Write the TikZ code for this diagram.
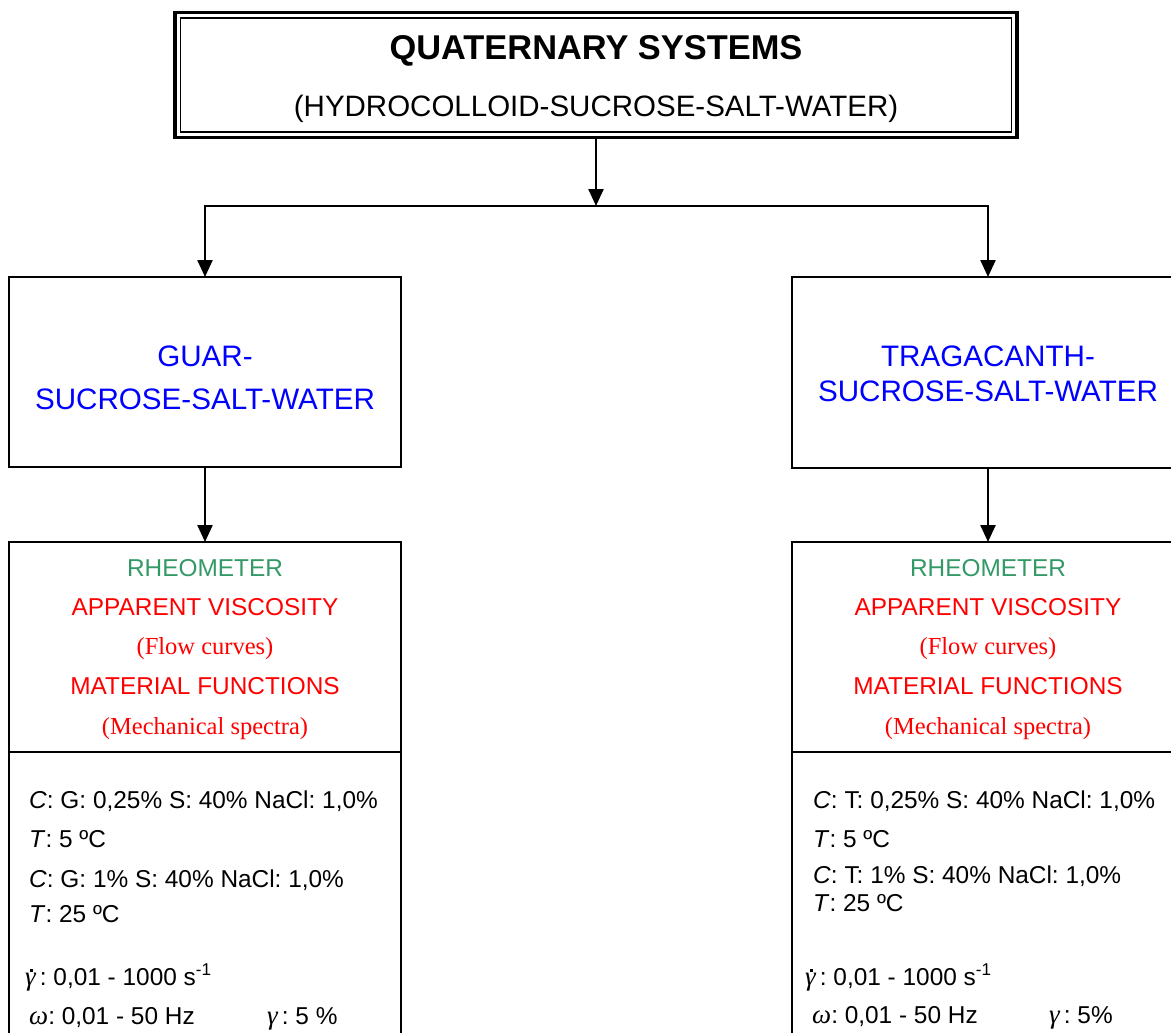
\documentclass[tikz,border=0pt]{standalone}
\usepackage{fontspec}
\setmainfont{Liberation Sans}
\newfontfamily\seriffont{Liberation Serif}
\usetikzlibrary{arrows.meta}
\definecolor{rheogreen}{RGB}{51,153,102}
\definecolor{sysblue}{RGB}{0,0,255}
\definecolor{specred}{RGB}{255,0,0}
\frenchspacing
% Greek symbols set in a serif italic
\newcommand\grk[1]{{\seriffont\itshape\fontsize{27}{30}\selectfont #1}}
% shear rate: gamma with a small square dot above
\newcommand\gammadot{\grk{γ}\llap{\raisebox{13pt}{\rule{2.6pt}{2.6pt}}\kern3.2pt}}

\begin{document}
\begin{tikzpicture}[x=1pt,y=-1pt,
  box/.style={draw, line width=2.4pt, inner sep=0pt, outer sep=0pt},
  link/.style={line width=2.4pt, -{Triangle[length=17pt,width=15pt]}},
  heading/.style={anchor=base, inner sep=0pt, font=\fontsize{34.4}{40}\selectfont\bfseries},
  subheading/.style={anchor=base, inner sep=0pt, font=\fontsize{29.5}{34}\selectfont},
  sysname/.style={anchor=base, inner sep=0pt, text=sysblue, font=\fontsize{29.6}{34}\selectfont},
  instr/.style={anchor=base, inner sep=0pt, text=rheogreen, font=\fontsize{24.4}{28}\selectfont},
  measure/.style={anchor=base, inner sep=0pt, text=specred, font=\fontsize{24.4}{28}\selectfont},
  remark/.style={anchor=base, inner sep=0pt, text=specred, font=\seriffont\fontsize{24.5}{28}\selectfont},
  cond/.style={anchor=base west, inner sep=0pt, font=\fontsize{24.4}{28}\selectfont},
]
\useasboundingbox (0,0) rectangle (1171,1033);
\clip (0,0) rectangle (1171,1033);

% title box with a heavy outer and a light inner frame
\node[box, line width=3.2pt, minimum width=842pt, minimum height=125pt] (top) at (596,75) {};
\node[box, line width=1.8pt, minimum width=831pt, minimum height=114pt] (topin) at (596,75) {};
\node[heading] (title) at (596,60) {QUATERNARY SYSTEMS};
\node[subheading] (subtitle) at (596,117) {(HYDROCOLLOID-SUCROSE-SALT-WATER)};

% system boxes
\node[box, minimum width=392pt, minimum height=190pt] (guar) at (205,372) {};
\node[box, minimum width=392pt, minimum height=191pt] (trag) at (988,372.5) {};
\node[sysname] (guar1) at (205,366) {GUAR-};
\node[sysname] (guar2) at (205,409) {SUCROSE-SALT-WATER};
\node[sysname] (trag1) at (988,366) {TRAGACANTH-};
\node[sysname] (trag2) at (988,401) {SUCROSE-SALT-WATER};

% measurement boxes
\node[box, minimum width=392pt, minimum height=530pt] (lowL) at (205,807) {};
\node[box, minimum width=392pt, minimum height=530pt] (lowR) at (988,807) {};
\coordinate (divL) at (205,752);
\coordinate (divR) at (988,752);
\draw[line width=2.4pt] (lowL.west |- divL) -- (lowL.east |- divL);
\draw[line width=2.4pt] (lowR.west |- divR) -- (lowR.east |- divR);

% connectors
\coordinate (split) at (596,206);
\draw[link] (top.south) -- (split);
\draw[line width=2.4pt, {Triangle[length=17pt,width=15pt]}-{Triangle[length=17pt,width=15pt]}]
  (guar.north) -- (guar.north |- split) -- (trag.north |- split) -- (trag.north);
\draw[link] (guar.south) -- (lowL.north);
\draw[link] (trag.south) -- (lowR.north);

% left measurement box contents
\node[instr]   (l1) at (205,576) {RHEOMETER};
\node[measure] (l2) at (205,615) {APPARENT VISCOSITY};
\node[remark]  (l3) at (205,654) {(Flow curves)};
\node[measure] (l4) at (205,694) {MATERIAL FUNCTIONS};
\node[remark]  (l5) at (205,734) {(Mechanical spectra)};
\node[cond] (lc1) at (29,808) {\textit{C}: G: 0,25\% S: 40\% NaCl: 1,0\%};
\node[cond] (lc2) at (29,847) {\textit{T}: 5 ºC};
\node[cond] (lc3) at (29,887) {\textit{C}: G: 1\% S: 40\% NaCl: 1,0\%};
\node[cond] (lc4) at (29,922) {\textit{T}: 25 ºC};
\node[cond] (lc5) at (25,985) {\gammadot\,: 0,01 - 1000 s\textsuperscript{-1}};
\node[cond] (lc6) at (29,1024) {\grk{ω}: 0,01 - 50 Hz};
\node[cond] (lc7) at (267,1024) {\grk{γ}\,: 5 \%};

% right measurement box contents
\node[instr]   (r1) at (988,576) {RHEOMETER};
\node[measure] (r2) at (988,615) {APPARENT VISCOSITY};
\node[remark]  (r3) at (988,654) {(Flow curves)};
\node[measure] (r4) at (988,694) {MATERIAL FUNCTIONS};
\node[remark]  (r5) at (988,734) {(Mechanical spectra)};
\node[cond] (rc1) at (813,808) {\textit{C}: T: 0,25\% S: 40\% NaCl: 1,0\%};
\node[cond] (rc2) at (813,847) {\textit{T}: 5 ºC};
\node[cond] (rc3) at (813,883) {\textit{C}: T: 1\% S: 40\% NaCl: 1,0\%};
\node[cond] (rc4) at (813,911) {\textit{T}: 25 ºC};
\node[cond] (rc5) at (805,985) {\gammadot\,: 0,01 - 1000 s\textsuperscript{-1}};
\node[cond] (rc6) at (812,1023) {\grk{ω}: 0,01 - 50 Hz};
\node[cond] (rc7) at (1049,1023) {\grk{γ}\,: 5\%};
\end{tikzpicture}
\end{document}
